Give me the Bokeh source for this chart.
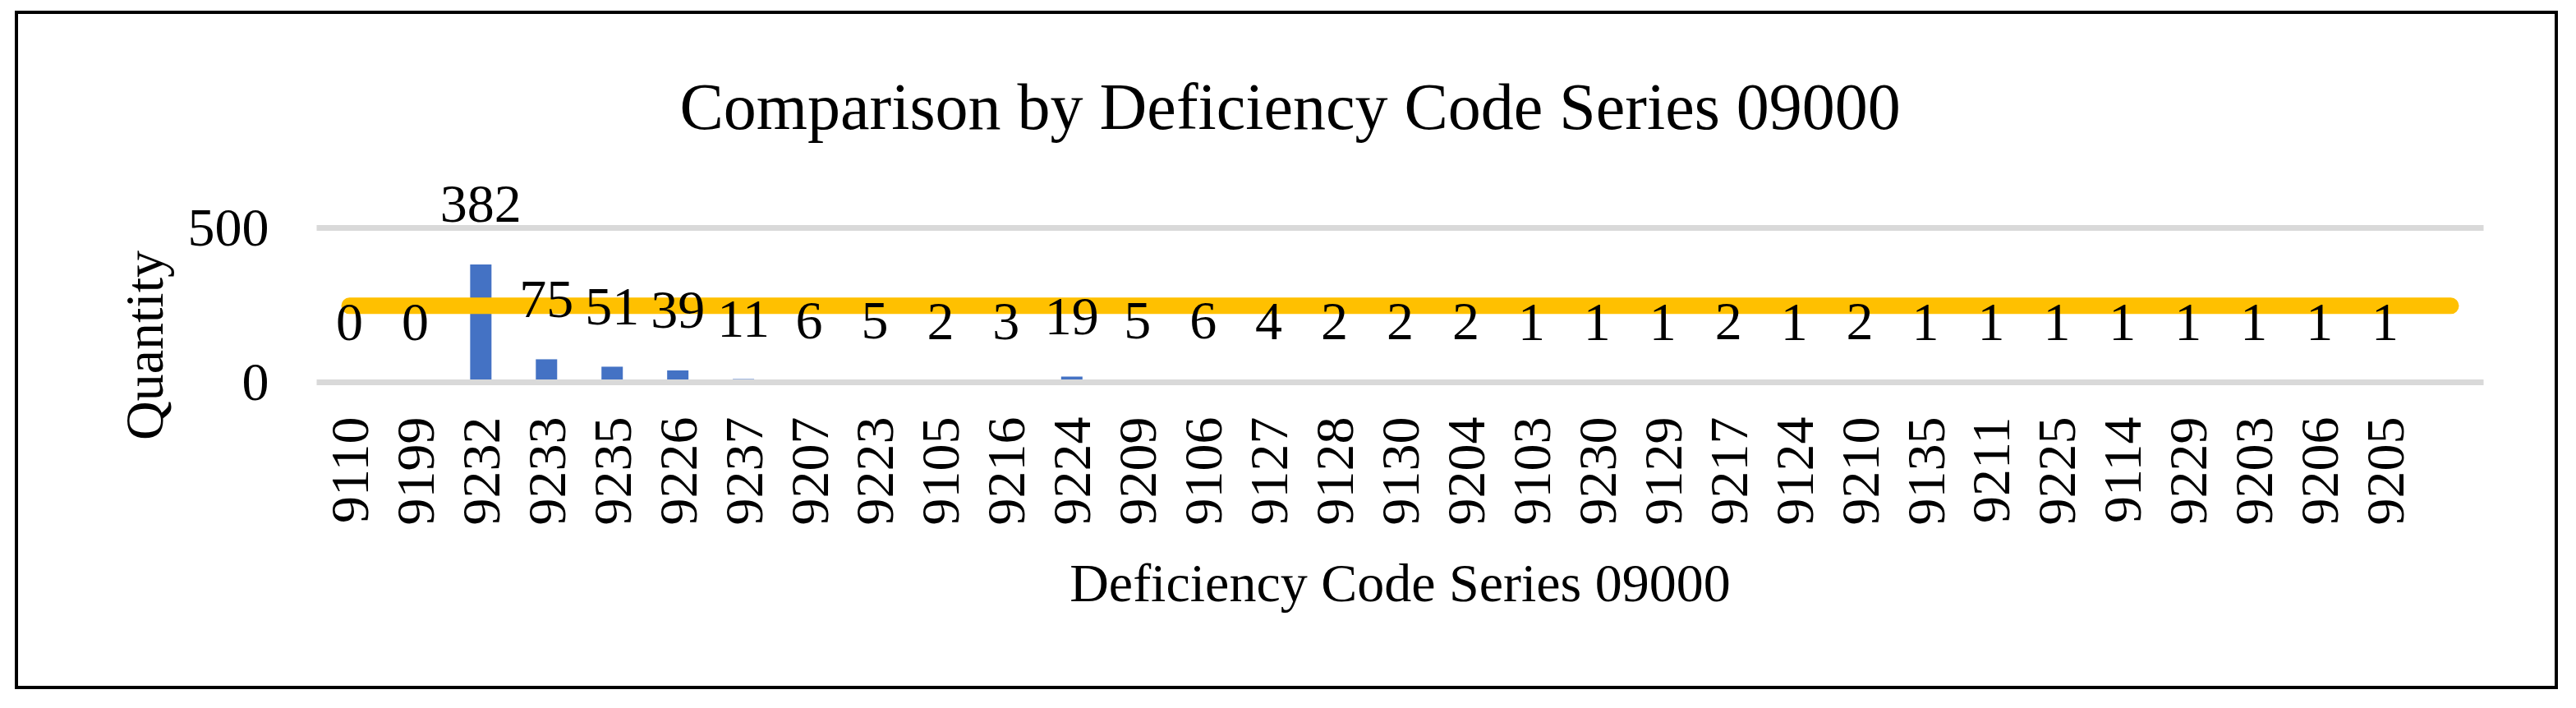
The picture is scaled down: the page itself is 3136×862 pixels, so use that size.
import math
from bokeh.plotting import figure
from bokeh.layouts import row, column
from bokeh.models import FixedTicker, FactorRange, Range1d, ColumnDataSource, Spacer
from bokeh.core.properties import value
from bokeh.embed import file_html
from bokeh.resources import INLINE

# ---- data ----
codes = ["9110", "9199", "9232", "9233", "9235", "9226", "9237", "9207", "9223",
         "9105", "9216", "9224", "9209", "9106", "9127", "9128", "9130", "9204",
         "9103", "9230", "9129", "9217", "9124", "9210", "9135", "9211", "9225",
         "9114", "9229", "9203", "9206", "9205"]
quantities = [0, 0, 382, 75, 51, 39, 11, 6, 5, 2, 3, 19, 5, 6, 4, 2, 2, 2,
              1, 1, 1, 2, 1, 2, 1, 1, 1, 1, 1, 1, 1, 1]
blank_slot = " "            # empty trailing category slot on the axis
reference_level = 248       # constant yellow line level
y_ticks = [0, 500]

title_text = "Comparison by Deficiency Code Series 09000"
x_title = "Deficiency Code Series 09000"
y_title = "Quantity"

FONT = "Liberation Serif"
factors = codes + [blank_slot]

p = figure(
    x_range=FactorRange(factors=factors, range_padding=0),
    y_range=Range1d(-401, 641),
    width=3096, height=826,
    output_backend="svg", toolbar_location=None,
    min_border_left=363, min_border_right=95,
    min_border_top=207, min_border_bottom=227,
    styles={"border": "4px solid black", "box-sizing": "border-box"},
)
p.background_fill_color = "white"
p.border_fill_color = "white"
p.outline_line_color = None

# title
p.title.text = title_text
p.title.text_font = FONT
p.title.text_font_size = "80px"
p.title.text_font_style = "normal"
p.title.text_color = "black"
p.title.align = "left"
p.title.offset = 442
p.title.standoff = 102

# grid
p.xgrid.grid_line_color = None
p.ygrid.grid_line_color = "#D9D9D9"
p.ygrid.grid_line_width = 7
p.ygrid.level = "overlay"
p.yaxis.ticker = FixedTicker(ticks=y_ticks)

for ax in (p.xaxis, p.yaxis):
    ax.axis_line_color = None
    ax.major_tick_line_color = None
    ax.minor_tick_line_color = None
    ax.major_tick_in = 0
    ax.major_tick_out = 0
    ax.minor_tick_in = 0
    ax.minor_tick_out = 0
    ax.major_label_text_font = FONT
    ax.major_label_text_font_size = "66px"
    ax.major_label_text_color = "black"
    ax.axis_label_text_font = FONT
    ax.axis_label_text_font_size = "66px"
    ax.axis_label_text_font_style = "normal"
    ax.axis_label_text_color = "black"

p.yaxis.major_label_standoff = 58
p.yaxis.axis_label = y_title
p.yaxis.axis_label_standoff = 14

p.xaxis.major_label_standoff = -109
p.xaxis.major_label_orientation = math.pi / 2
p.xaxis.axis_label = x_title
p.xaxis.axis_label_standoff = 30

# bars
src = ColumnDataSource(dict(code=codes, qty=quantities, lbl=[str(q) for q in quantities]))
p.vbar(x="code", top="qty", bottom=0, width=0.325, source=src,
       fill_color="#4472C4", line_color=None)

# constant yellow line
p.line(x=factors, y=[reference_level] * len(factors), line_width=20,
       line_color="#FFC000", line_cap="round")

# data labels
p.text(x="code", y="qty", text="lbl", source=src,
       text_font=value(FONT), text_font_size="66px", text_color="black",
       text_align="center", text_baseline="middle", y_offset=-73)

layout = row(Spacer(width=18, height=10), column(Spacer(width=10, height=13), p))

open("out.html", "w").write(file_html(layout, INLINE))
